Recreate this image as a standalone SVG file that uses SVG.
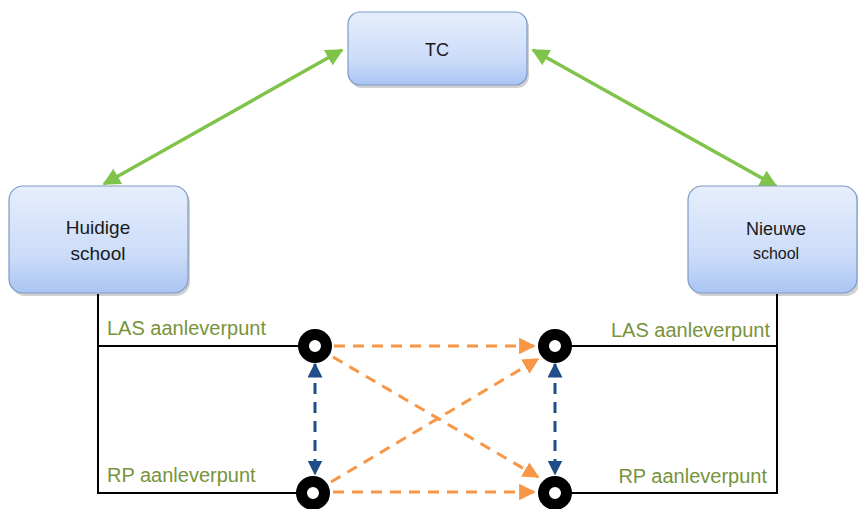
<svg xmlns="http://www.w3.org/2000/svg" width="858" height="509" viewBox="0 0 858 509">
<style>
.box{stroke:#7f9ac4;stroke-width:1.2}
.shadow{fill:#000;opacity:0.18}
.nt{font-family:"Liberation Sans",Arial,sans-serif;fill:#1a1a1a;text-anchor:middle}
.lab{font-family:"Liberation Sans",Arial,sans-serif;fill:#77933c;font-size:20px}
.wire{stroke:#000;stroke-width:2;fill:none}
.green{stroke:#80c34a;stroke-width:3.5;fill:none;marker-start:url(#gs);marker-end:url(#ge)}
.orange{stroke:#f79646;stroke-width:3;fill:none;stroke-dasharray:11,8;marker-end:url(#oe)}
.blue{stroke:#1f4e8a;stroke-width:3;fill:none;stroke-dasharray:11,8;marker-start:url(#bs);marker-end:url(#be)}
.pt{fill:#fff;stroke:#000;stroke-width:11}
</style>
<defs>
<linearGradient id="bg" x1="0" y1="0" x2="0" y2="1">
<stop offset="0" stop-color="#e6eefc"/>
<stop offset="0.65" stop-color="#ccdcf9"/>
<stop offset="1" stop-color="#a9c5f3"/>
</linearGradient>
<marker id="ge" viewBox="0 0 10 10" refX="9" refY="5" markerWidth="5" markerHeight="5" orient="auto" markerUnits="strokeWidth"><path d="M0,0 L10,5 L0,10 z" fill="#80c34a"/></marker>
<marker id="gs" viewBox="0 0 10 10" refX="1" refY="5" markerWidth="5" markerHeight="5" orient="auto" markerUnits="strokeWidth"><path d="M10,0 L0,5 L10,10 z" fill="#80c34a"/></marker>
<marker id="oe" viewBox="0 0 10 10" refX="9" refY="5" markerWidth="5.5" markerHeight="5.5" orient="auto" markerUnits="strokeWidth"><path d="M0,0 L10,5 L0,10 z" fill="#f79646"/></marker>
<marker id="be" viewBox="0 0 10 10" refX="9" refY="5" markerWidth="5" markerHeight="5" orient="auto" markerUnits="strokeWidth"><path d="M0,0 L10,5 L0,10 z" fill="#1f4e8a"/></marker>
<marker id="bs" viewBox="0 0 10 10" refX="1" refY="5" markerWidth="5" markerHeight="5" orient="auto" markerUnits="strokeWidth"><path d="M10,0 L0,5 L10,10 z" fill="#1f4e8a"/></marker>
</defs>
<rect width="858" height="509" fill="#fff"/>
<g id="connectors">
<path class="wire" d="M98,294 V493 H300"/>
<path class="wire" d="M98,346 H300"/>
<path class="wire" d="M777,294 V493 H570"/>
<path class="wire" d="M777,346 H570"/>
<line class="green" x1="104" y1="184" x2="342" y2="50"/>
<line class="green" x1="533" y1="50" x2="776" y2="186"/>
<line class="orange" x1="334" y1="346" x2="534" y2="346"/>
<line class="orange" x1="333" y1="357" x2="538" y2="477"/>
<line class="orange" x1="331" y1="482" x2="538" y2="359"/>
<line class="orange" x1="333" y1="492" x2="534" y2="492"/>
<line class="blue" x1="315" y1="364" x2="315" y2="474"/>
<line class="blue" x1="555" y1="364" x2="555" y2="474"/>
</g>
<g id="tc">
<rect class="shadow" x="350" y="15" width="179" height="73" rx="12"/>
<rect class="box" x="348" y="12" width="179" height="73" rx="12" fill="url(#bg)"/>
<text class="nt" x="437" y="56" font-size="18">TC</text>
</g>
<g id="huidige">
<rect class="shadow" x="11" y="189" width="179" height="107" rx="14"/>
<rect class="box" x="9" y="186" width="179" height="107" rx="14" fill="url(#bg)"/>
<text class="nt" x="98" y="234" font-size="19">Huidige</text>
<text class="nt" x="98" y="260" font-size="19">school</text>
</g>
<g id="nieuwe">
<rect class="shadow" x="690" y="189" width="170" height="107" rx="14"/>
<rect class="box" x="688" y="186" width="169" height="107" rx="14" fill="url(#bg)"/>
<text class="nt" x="776" y="235" font-size="18">Nieuwe</text>
<text class="nt" x="776" y="259" font-size="16">school</text>
</g>
<g id="las-left"><text class="lab" x="107" y="335">LAS aanleverpunt</text></g>
<g id="rp-left"><text class="lab" x="107" y="482">RP aanleverpunt</text></g>
<g id="las-right"><text class="lab" x="770" y="337" text-anchor="end">LAS aanleverpunt</text></g>
<g id="rp-right"><text class="lab" x="767" y="483" text-anchor="end">RP aanleverpunt</text></g>
<g id="p1"><circle class="pt" cx="315" cy="346" r="11.5"/></g>
<g id="p2"><circle class="pt" cx="555" cy="346" r="11.5"/></g>
<g id="p3"><circle class="pt" cx="313" cy="493" r="11.5"/></g>
<g id="p4"><circle class="pt" cx="555" cy="493" r="11.5"/></g>
</svg>
